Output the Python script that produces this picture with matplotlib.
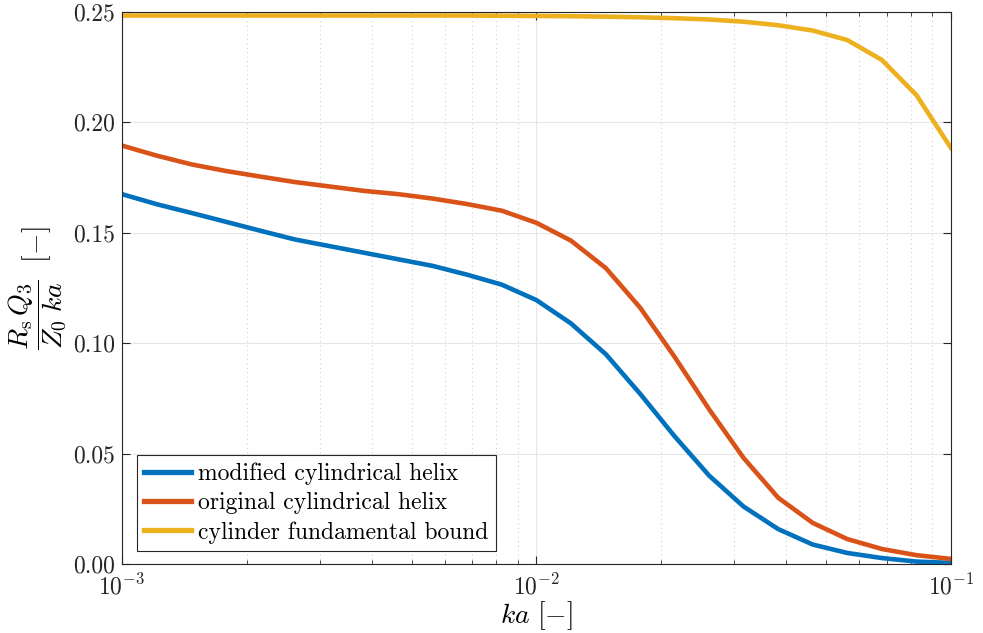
import numpy as np
import matplotlib
matplotlib.use('Agg')
import matplotlib.pyplot as plt
from matplotlib.ticker import LogLocator, NullFormatter, FixedLocator

plt.rcParams['font.family'] = 'serif'
plt.rcParams['font.serif'] = ['cmr10']
plt.rcParams['mathtext.fontset'] = 'cm'
plt.rcParams['axes.unicode_minus'] = False
plt.rcParams['axes.formatter.use_mathtext'] = True

# ka samples
ka = [0.001, 0.00121, 0.00147, 0.00178, 0.00215, 0.00261, 0.00316, 0.00383,
      0.00464, 0.00562, 0.00681, 0.00825, 0.01, 0.0121, 0.0147, 0.0178,
      0.0215, 0.0261, 0.0316, 0.0383, 0.0464, 0.0562, 0.0681, 0.0825, 0.1]

modified_helix = [0.1675, 0.163, 0.159, 0.155, 0.151, 0.147, 0.144, 0.141,
                  0.138, 0.135, 0.131, 0.1265, 0.1195, 0.109, 0.095, 0.077,
                  0.058, 0.040, 0.026, 0.0158, 0.0088, 0.005, 0.0027, 0.0011, 0.0005]

original_helix = [0.1895, 0.185, 0.181, 0.178, 0.1755, 0.173, 0.171, 0.169,
                  0.1675, 0.1655, 0.163, 0.160, 0.1545, 0.1465, 0.134, 0.116,
                  0.094, 0.070, 0.048, 0.030, 0.0186, 0.0113, 0.0068, 0.004, 0.0023]

cylinder_bound = [0.2484, 0.2484, 0.2484, 0.2484, 0.2484, 0.2484, 0.2484, 0.2484,
                  0.2484, 0.2484, 0.2484, 0.2483, 0.2482, 0.2481, 0.2479, 0.2476,
                  0.2472, 0.2466, 0.2456, 0.2440, 0.2416, 0.2373, 0.2283, 0.2124, 0.1884]

labels = ['modified cylindrical helix', 'original cylindrical helix',
          'cylinder fundamental bound']
colors = ['#0072BD', '#D95319', '#EDB120']

fig = plt.figure(figsize=(9.83, 6.33), dpi=100)
ax = fig.add_axes([122/983, 1 - 564/633, (951-122)/983, (564-12)/633])

for y, lab, c in zip([modified_helix, original_helix, cylinder_bound], labels, colors):
    ax.plot(ka, y, color=c, linewidth=3.3, label=lab)

ax.set_xscale('log')
ax.set_xlim(1e-3, 1e-1)
ax.set_ylim(0, 0.25)
ax.yaxis.set_major_locator(FixedLocator([0, 0.05, 0.10, 0.15, 0.20, 0.25]))
ax.set_yticklabels(['0.00', '0.05', '0.10', '0.15', '0.20', '0.25'])
ax.xaxis.set_minor_locator(LogLocator(base=10, subs=np.arange(2, 10)))
ax.xaxis.set_minor_formatter(NullFormatter())

ax.grid(True, which='major', color='#e6e6e6', linewidth=0.8, linestyle='-')
ax.grid(True, which='minor', axis='x', color='#d0d0d0', linewidth=0.8, linestyle=(0, (1, 3)))
ax.set_axisbelow(True)

for s in ax.spines.values():
    s.set_color('#262626')
    s.set_linewidth(0.8)
ax.tick_params(which='both', direction='in', top=True, right=True, colors='#262626',
               labelsize=17, labelcolor='#262626')
ax.tick_params(which='major', length=6)
ax.tick_params(which='minor', length=3)
ax.tick_params(axis='x', pad=7)
ax.tick_params(axis='y', pad=5)

ax.set_xlabel(r'$ka\ [-]$', fontsize=20, labelpad=0)
ax.set_ylabel(r'$\dfrac{R_\mathrm{s}\,Q_3}{Z_0\;ka}\ \ [-]$', fontsize=20, labelpad=3)

leg = ax.legend(loc='lower left', fontsize=17, frameon=True, fancybox=False,
                edgecolor='#262626', framealpha=1, handlelength=2.0,
                handletextpad=0.3, borderpad=0.3, labelspacing=0.3,
                borderaxespad=0, bbox_to_anchor=(0.018, 0.024))
leg.get_frame().set_linewidth(0.8)
for line in leg.get_lines():
    line.set_linewidth(3.8)

fig.savefig('out.png', dpi=100)
